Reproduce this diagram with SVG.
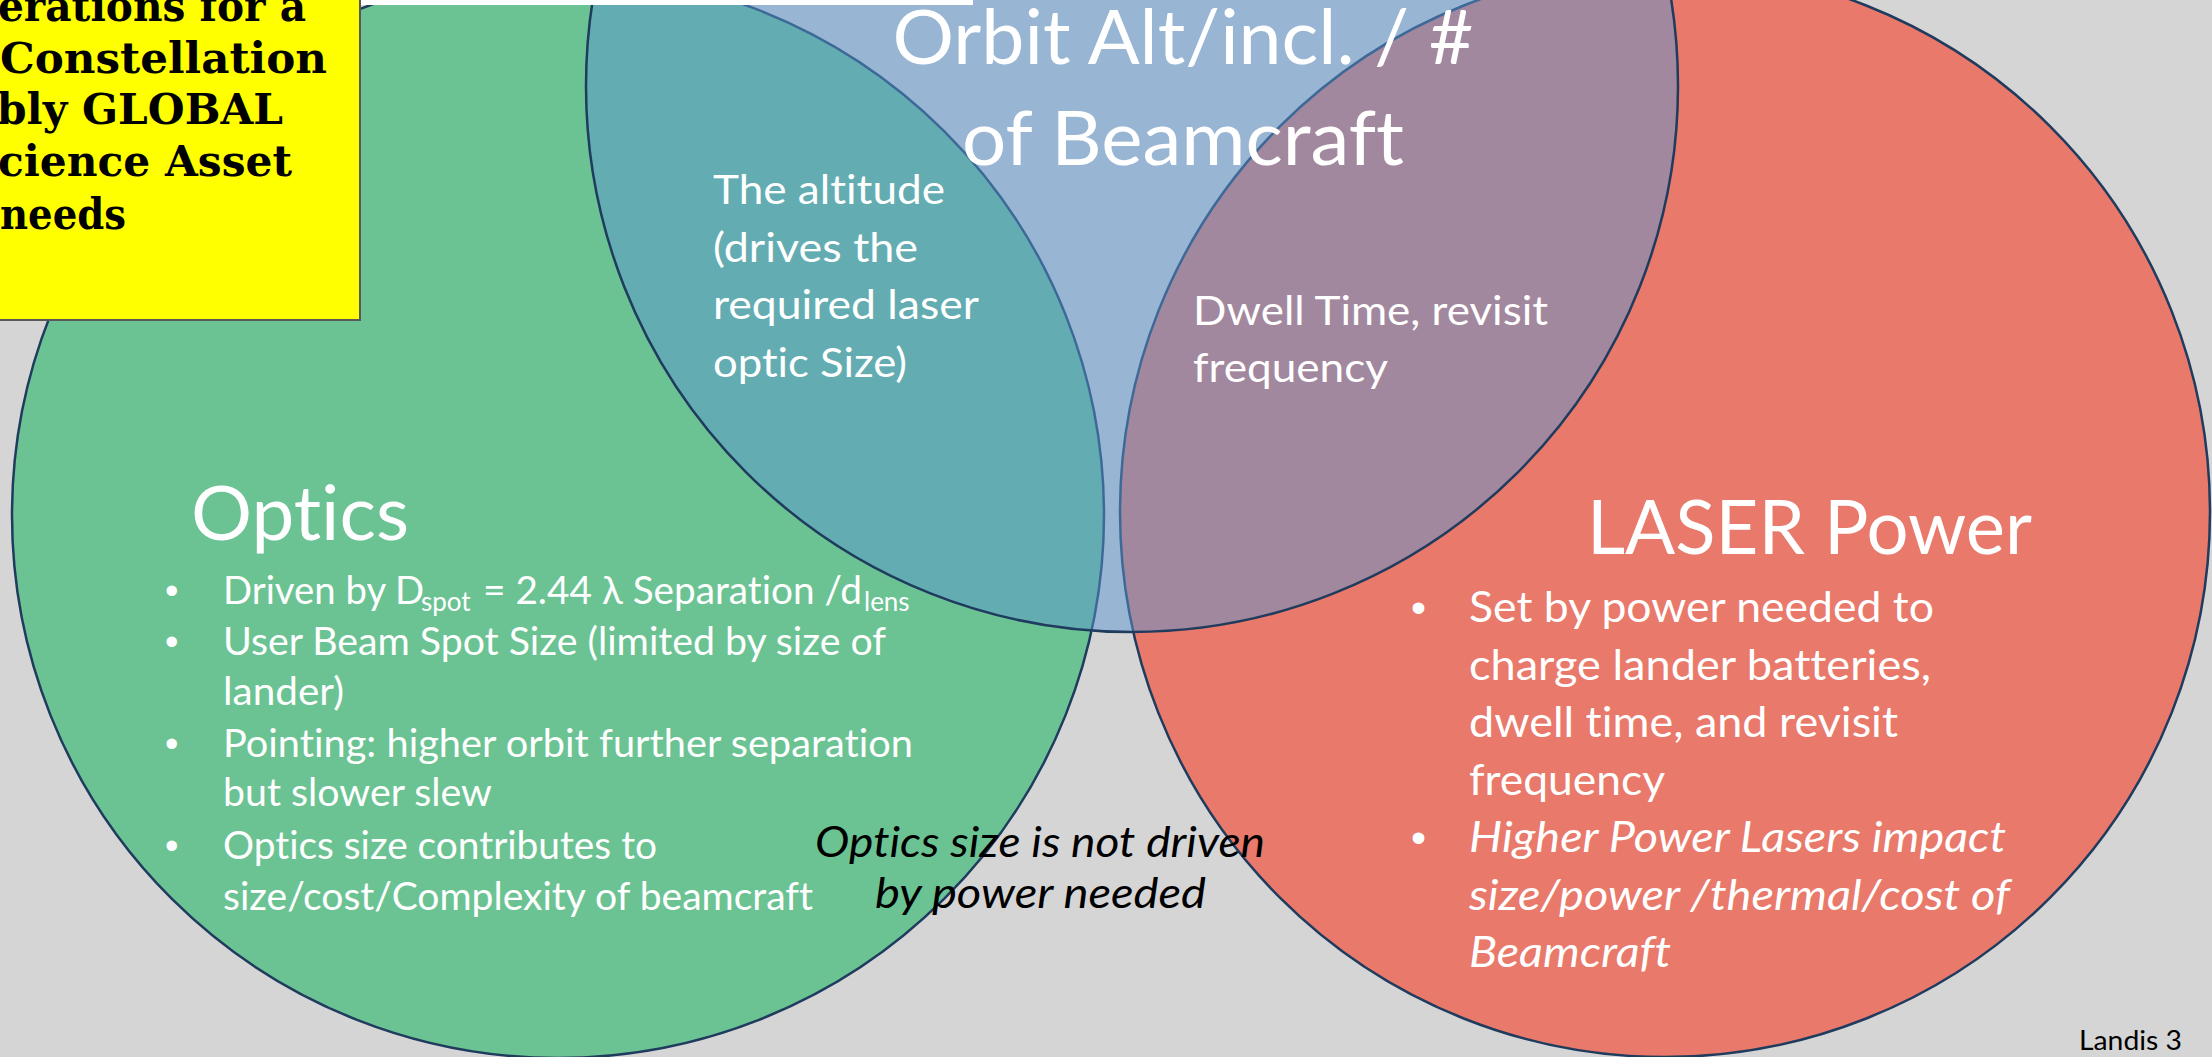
<svg xmlns="http://www.w3.org/2000/svg" width="2212" height="1057" viewBox="0 0 2212 1057">
<style>
.c{stroke:#1f3b5e;stroke-width:2.5}
.t{font-family:Lato,"Open Sans",sans-serif;fill:#fff;font-variant-ligatures:none}
.h{font-size:76px}
.m{font-size:41.5px}
.o{font-size:38.3px}
.l{font-size:43px}
.s{font-size:26px}
.bu{font-family:"Liberation Sans",Arial,sans-serif;fill:#fff}
.i{font-style:italic}
.k{fill:#000}
.y{font-family:"DejaVu Serif",serif;font-weight:bold;font-size:42px;fill:#000}
</style>
<rect width="2212" height="1057" fill="#d5d5d5"/>
<g id="optics">
<ellipse cx="558" cy="515" rx="546" ry="543" fill="#6bc393" class="c"/>
<text class="t h" x="191" y="540" textLength="218" lengthAdjust="spacingAndGlyphs">Optics</text>
<text class="bu o" x="165" y="604">•</text>
<text class="t o" y="604"><tspan x="223">Driven by D</tspan><tspan class="s" x="421" dy="7">spot</tspan><tspan x="483" dy="-7" textLength="379" lengthAdjust="spacingAndGlyphs">= 2.44 λ Separation /d</tspan><tspan class="s" x="864" dy="7">lens</tspan></text>
<text class="bu o" x="165" y="655">•</text>
<text class="t o" x="223" y="655" textLength="663" lengthAdjust="spacingAndGlyphs">User Beam Spot Size (limited by size of</text>
<text class="t o" x="223" y="705" textLength="121" lengthAdjust="spacingAndGlyphs">lander)</text>
<text class="bu o" x="165" y="757">•</text>
<text class="t o" x="223" y="757" textLength="690" lengthAdjust="spacingAndGlyphs">Pointing: higher orbit further separation</text>
<text class="t o" x="223" y="806" textLength="269" lengthAdjust="spacingAndGlyphs">but slower slew</text>
<text class="bu o" x="165" y="859">•</text>
<text class="t o" x="223" y="859" textLength="434" lengthAdjust="spacingAndGlyphs">Optics size contributes to</text>
<text class="t o" x="223" y="910" textLength="590" lengthAdjust="spacingAndGlyphs">size/cost/Complexity of beamcraft</text>
</g>
<g id="laser">
<ellipse cx="1665" cy="512" rx="545" ry="545" fill="#e9796a" class="c"/>
<text class="t h" x="1587" y="554" textLength="445" lengthAdjust="spacingAndGlyphs">LASER Power</text>
<text class="bu l" x="1411" y="622">•</text>
<text class="t l" x="1469" y="622" textLength="465" lengthAdjust="spacingAndGlyphs">Set by power needed to</text>
<text class="t l" x="1469" y="679.5" textLength="462" lengthAdjust="spacingAndGlyphs">charge lander batteries,</text>
<text class="t l" x="1469" y="737" textLength="429" lengthAdjust="spacingAndGlyphs">dwell time, and revisit</text>
<text class="t l" x="1469" y="794.5" textLength="196" lengthAdjust="spacingAndGlyphs">frequency</text>
<text class="bu l" x="1411" y="852">•</text>
<text class="t l i" x="1469" y="852" textLength="537" lengthAdjust="spacingAndGlyphs">Higher Power Lasers impact</text>
<text class="t l i" x="1469" y="909.5" textLength="541" lengthAdjust="spacingAndGlyphs">size/power /thermal/cost of</text>
<text class="t l i" x="1469" y="967" textLength="202" lengthAdjust="spacingAndGlyphs">Beamcraft</text>
</g>
<g id="orbit">
<ellipse cx="1132" cy="86" rx="546" ry="546" fill="#5c98d2" fill-opacity="0.5" class="c"/>
<text class="t h" x="1183" y="64" text-anchor="middle" textLength="581" lengthAdjust="spacingAndGlyphs">Orbit Alt/incl. / #</text>
<text class="t h" x="1183" y="165" text-anchor="middle" textLength="442" lengthAdjust="spacingAndGlyphs">of Beamcraft</text>
</g>
<g id="optics-orbit">
<text class="t m" x="713" y="204" textLength="232" lengthAdjust="spacingAndGlyphs">The altitude</text>
<text class="t m" x="713" y="261.5" textLength="205" lengthAdjust="spacingAndGlyphs">(drives the</text>
<text class="t m" x="713" y="319" textLength="266" lengthAdjust="spacingAndGlyphs">required laser</text>
<text class="t m" x="713" y="376.5" textLength="194" lengthAdjust="spacingAndGlyphs">optic Size)</text>
</g>
<g id="orbit-laser">
<text class="t m" x="1193" y="325" textLength="355" lengthAdjust="spacingAndGlyphs">Dwell Time, revisit</text>
<text class="t m" x="1193" y="382" textLength="195" lengthAdjust="spacingAndGlyphs">frequency</text>
</g>
<g id="note">
<text class="t i k" style="font-size:42px" x="815" y="857" textLength="450" lengthAdjust="spacingAndGlyphs">Optics size is not driven</text>
<text class="t i k" style="font-size:42px" x="875" y="908" textLength="331" lengthAdjust="spacingAndGlyphs">by power needed</text>
</g>
<g id="title-bar">
<rect x="360" y="0" width="613" height="5" fill="#ffffff"/>
</g>
<g id="title-box">
<rect x="-3" y="-3" width="363" height="323" fill="#ffff00" stroke="#595959" stroke-width="2"/>
<text class="y" x="-2" y="21" textLength="308" lengthAdjust="spacingAndGlyphs">erations for a</text>
<text class="y" x="0" y="73" textLength="327" lengthAdjust="spacingAndGlyphs">Constellation</text>
<text class="y" x="-3" y="124" textLength="286" lengthAdjust="spacingAndGlyphs">bly GLOBAL</text>
<text class="y" x="-2" y="176" textLength="294" lengthAdjust="spacingAndGlyphs">cience Asset</text>
<text class="y" x="0" y="229" textLength="126" lengthAdjust="spacingAndGlyphs">needs</text>
</g>
<g id="footer">
<text class="t k" style="font-size:27px" x="2079" y="1050" textLength="103" lengthAdjust="spacingAndGlyphs">Landis 3</text>
</g>
</svg>
